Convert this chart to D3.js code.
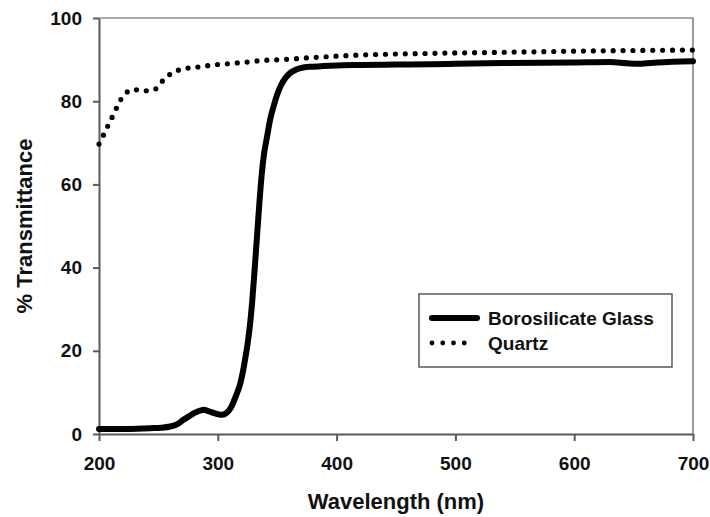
<!DOCTYPE html>
<html>
<head>
<meta charset="utf-8">
<script src="https://cdn.jsdelivr.net/npm/d3@7"></script>
<style>
  body { margin: 0; background: #fff; }
  text { font-family: "Liberation Sans", Arial, sans-serif; font-weight: bold; fill: #111; }
</style>
</head>
<body>
<svg width="710" height="517"></svg>
<script>
// borosilicate glass curve (nm, %T)
const boroWave = [200, 220, 243, 252, 260, 266, 271, 276, 280, 285, 288, 292, 297, 303, 307, 311, 315, 319, 321, 323, 325, 327, 329, 331, 333, 335, 337, 339, 341.5, 344, 347, 350, 353, 357, 361, 366, 372, 380, 400, 420, 450, 480, 500, 540, 600, 630, 645, 655, 670, 700];
const boroT    = [1.2, 1.2, 1.4, 1.5, 1.8, 2.4, 3.4, 4.3, 5.0, 5.6, 5.8, 5.5, 5.0, 4.6, 5.0, 6.3, 9.0, 12.2, 14.8, 18.0, 21.5, 26.0, 32.0, 39.5, 47.5, 55.5, 62.5, 67.5, 71.5, 75.5, 78.8, 81.6, 83.7, 85.6, 86.8, 87.6, 88.1, 88.3, 88.6, 88.7, 88.8, 88.9, 89.0, 89.2, 89.3, 89.4, 89.1, 89.0, 89.3, 89.6];

// quartz curve
const quartzWave = [200, 204, 208, 212, 216, 221, 229, 238, 246, 254, 262, 270, 279, 287, 295, 304, 312, 320, 328, 337, 345, 353, 380, 420, 480, 550, 620, 700];
const quartzT    = [69.7, 72.0, 74.4, 76.7, 79.1, 81.5, 82.8, 82.5, 82.7, 85.0, 86.9, 87.7, 88.1, 88.3, 88.7, 88.9, 89.1, 89.3, 89.5, 89.8, 89.9, 90.0, 90.5, 91.1, 91.5, 91.8, 92.1, 92.3];

const xTicks = [200, 300, 400, 500, 600, 700];
const yTicks = [0, 20, 40, 60, 80, 100];
const seriesNames = ["Borosilicate Glass", "Quartz"];

const margin = {left: 99, top: 18, right: 17, bottom: 83};
const width = 710 - margin.left - margin.right;
const height = 517 - margin.top - margin.bottom;
const AXIS_GREY = "#5a5a5a";

const svg = d3.select("svg");
const g = svg.append("g").attr("transform", `translate(${margin.left},${margin.top})`);

const x = d3.scaleLinear().domain([200, 700]).range([0, width]);
const y = d3.scaleLinear().domain([0, 100]).range([height, 0]);

// frame (top + right)
g.append("path")
    .attr("d", `M0,0H${width}V${height}`)
    .attr("fill", "none")
    .attr("stroke", AXIS_GREY)
    .attr("stroke-width", 1.2);

// axes
const xAxis = g.append("g")
    .attr("transform", `translate(0,${height})`)
    .call(d3.axisBottom(x).tickValues(xTicks).tickSize(7).tickSizeOuter(0).tickPadding(16));
const yAxis = g.append("g")
    .call(d3.axisLeft(y).tickValues(yTicks).tickSize(6).tickSizeOuter(0).tickPadding(11));

[xAxis, yAxis].forEach(ax => {
    ax.select(".domain").attr("stroke", AXIS_GREY).attr("stroke-width", 2);
    ax.selectAll(".tick line").attr("stroke", AXIS_GREY).attr("stroke-width", 2);
    ax.selectAll(".tick text")
        .attr("font-size", 19)
        .attr("font-family", "Liberation Sans, Arial, sans-serif")
        .attr("font-weight", "bold")
        .attr("fill", "#111");
});

// lines
const line = d3.line().curve(d3.curveMonotoneX);

const boroPts = boroWave.map((w, i) => [x(w), y(boroT[i])]);
const quartzPts = quartzWave.map((w, i) => [x(w), y(quartzT[i])]);

g.append("path")
    .attr("d", line(quartzPts))
    .attr("fill", "none")
    .attr("stroke", "#000")
    .attr("stroke-width", 5.2)
    .attr("stroke-linecap", "round")
    .attr("stroke-dasharray", "0,9.9");

g.append("path")
    .attr("d", line(boroPts))
    .attr("fill", "none")
    .attr("stroke", "#000")
    .attr("stroke-width", 6)
    .attr("stroke-linecap", "round")
    .attr("stroke-linejoin", "round");

// axis titles
svg.append("text")
    .attr("x", margin.left + width / 2)
    .attr("y", 509)
    .attr("text-anchor", "middle")
    .attr("font-size", 22)
    .text("Wavelength (nm)");

svg.append("text")
    .attr("transform", `translate(32,${margin.top + height / 2}) rotate(-90)`)
    .attr("text-anchor", "middle")
    .attr("font-size", 22)
    .text("% Transmittance");

// legend
const legend = svg.append("g").attr("transform", "translate(419,294)");
legend.append("rect")
    .attr("width", 253)
    .attr("height", 73)
    .attr("fill", "#fff")
    .attr("stroke", AXIS_GREY)
    .attr("stroke-width", 1.5);

legend.append("line")
    .attr("x1", 13).attr("x2", 58).attr("y1", 24).attr("y2", 24)
    .attr("stroke", "#000").attr("stroke-width", 6).attr("stroke-linecap", "round");
legend.append("line")
    .attr("x1", 13).attr("x2", 56).attr("y1", 49).attr("y2", 49)
    .attr("stroke", "#000").attr("stroke-width", 4.8).attr("stroke-linecap", "round")
    .attr("stroke-dasharray", "0,10.75");

legend.selectAll("text.lbl")
    .data(seriesNames)
    .enter()
    .append("text")
    .attr("class", "lbl")
    .attr("x", 69)
    .attr("y", (d, i) => 31 + i * 25)
    .attr("font-size", 19)
    .text(d => d);
</script>
</body>
</html>
